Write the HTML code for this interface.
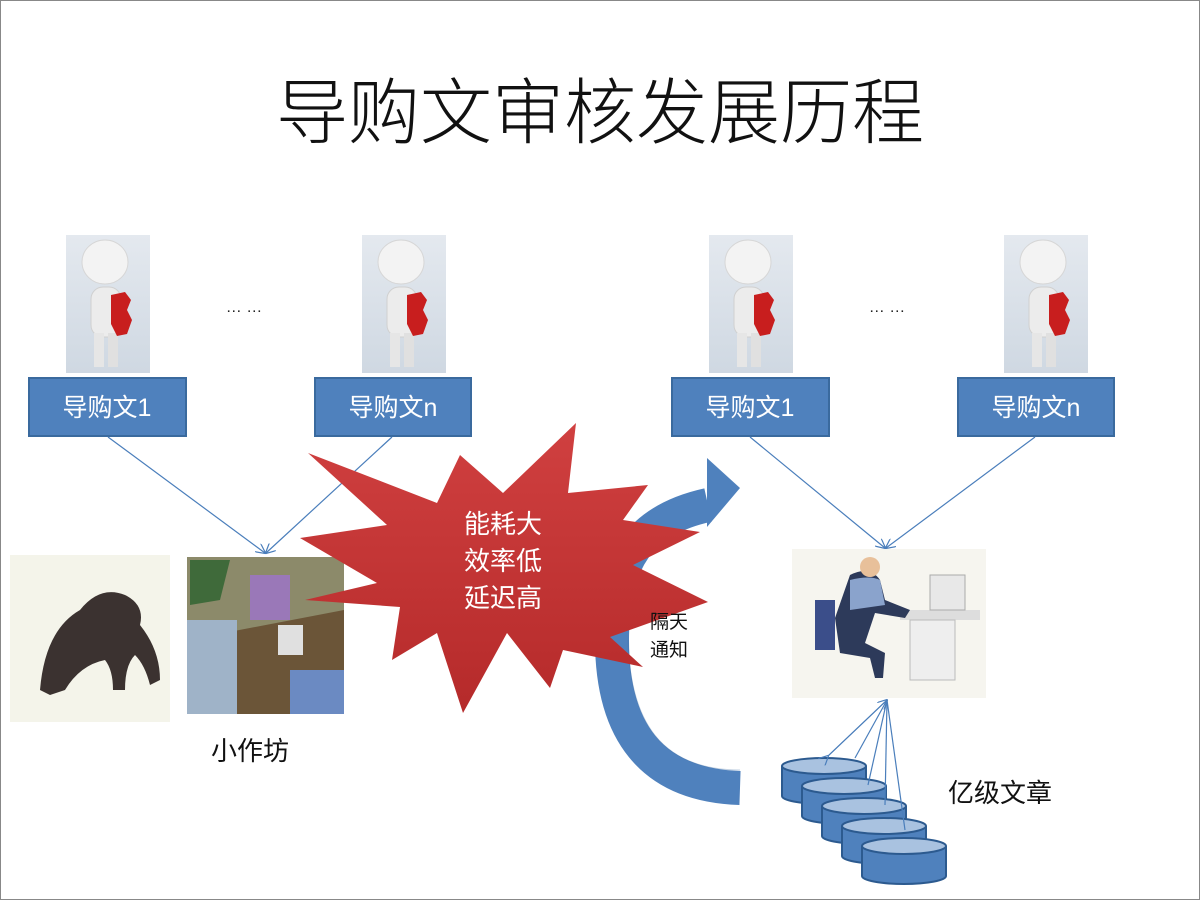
<!DOCTYPE html>
<html><head><meta charset="utf-8"><style>
html,body{margin:0;padding:0;background:#fff}
svg{display:block}
text{font-family:"Liberation Sans","Noto Sans CJK SC",sans-serif}
</style></head><body>
<svg width="1200" height="900" viewBox="0 0 1200 900" xmlns="http://www.w3.org/2000/svg">
<defs>
<linearGradient id="pbg" x1="0" y1="0" x2="0" y2="1"><stop offset="0" stop-color="#e4e9ef"/><stop offset="1" stop-color="#cfd8e2"/></linearGradient>
<linearGradient id="red" x1="0" y1="0" x2="0" y2="1"><stop offset="0" stop-color="#d04040"/><stop offset="1" stop-color="#b52a2a"/></linearGradient>
<g id="person">
<rect x="0" y="0" width="84" height="138" fill="url(#pbg)"/>
<ellipse cx="39" cy="27" rx="23" ry="22" fill="#f3f3f3" stroke="#d6d6d6"/>
<rect x="25" y="52" width="30" height="50" rx="12" fill="#ececec" stroke="#d0d0d0"/>
<rect x="28" y="98" width="10" height="34" fill="#e6e6e6"/>
<rect x="42" y="98" width="10" height="34" fill="#e0e0e0"/>
<path d="M45 60 l14 -3 l6 8 l-4 10 l5 10 l-5 14 l-10 2 l-6 -12 z" fill="#c81e1e"/>
</g>
<g id="cyl">
<path d="M0 8 v30 a42 8 0 0 0 84 0 v-30" fill="#4f81bd" stroke="#2c5a8f" stroke-width="2"/>
<ellipse cx="42" cy="8" rx="42" ry="8" fill="#a9c2e0" stroke="#2c5a8f" stroke-width="2"/>
</g>
<marker id="ah" markerWidth="10" markerHeight="10" refX="9" refY="5" orient="auto" markerUnits="userSpaceOnUse"><path d="M0 0 L10 5 L0 10" fill="none" stroke="#4a7ebb" stroke-width="1.2"/></marker>
</defs>
<rect x="0.5" y="0.5" width="1199" height="899" fill="#fff" stroke="#888"/>
<text x="600" y="138" font-size="72" text-anchor="middle" fill="#111" font-family="'Noto Sans CJK SC',sans-serif" font-weight="300">导购文审核发展历程</text>

<use href="#person" x="66" y="235"/>
<use href="#person" x="362" y="235"/>
<use href="#person" x="709" y="235"/>
<use href="#person" x="1004" y="235"/>
<text x="244" y="312" font-size="16" text-anchor="middle" fill="#222">… …</text>
<text x="887" y="312" font-size="16" text-anchor="middle" fill="#222">… …</text>

<g fill="#4f81bd" stroke="#3a6a9e" stroke-width="2">
<rect x="29" y="378" width="157" height="58"/>
<rect x="315" y="378" width="156" height="58"/>
<rect x="672" y="378" width="157" height="58"/>
<rect x="958" y="378" width="156" height="58"/>
</g>
<g fill="#fff" font-size="25" text-anchor="middle">
<text x="107" y="416">导购文1</text>
<text x="393" y="416">导购文n</text>
<text x="750" y="416">导购文1</text>
<text x="1036" y="416">导购文n</text>
</g>

<g stroke="#4a7ebb" stroke-width="1.2" fill="none">
<line x1="108" y1="437" x2="265" y2="553" marker-end="url(#ah)"/>
<line x1="392" y1="437" x2="266" y2="553" marker-end="url(#ah)"/>
<line x1="750" y1="437" x2="885" y2="548" marker-end="url(#ah)"/>
<line x1="1035" y1="437" x2="886" y2="548" marker-end="url(#ah)"/>
</g>

<!-- monkey -->
<rect x="10" y="555" width="160" height="167" fill="#f4f4ea"/>
<path d="M40 690 q5 -60 40 -80 q20 -25 45 -15 q20 10 15 30 q20 25 20 55 l-10 5 q-5 -20 -15 -30 q-10 10 -10 35 l-12 0 q0 -20 -8 -30 q-25 5 -40 30 l-15 5 z" fill="#3b3230"/>
<!-- office -->
<rect x="187" y="557" width="157" height="157" fill="#8c8a6a"/>
<path d="M187 640 l157 -30 v104 h-157z" fill="#6b5538"/>
<rect x="187" y="620" width="50" height="94" fill="#9fb3c8"/>
<rect x="250" y="575" width="40" height="45" fill="#9a78b8"/>
<rect x="278" y="625" width="25" height="30" fill="#e0e0e0"/>
<rect x="290" y="670" width="54" height="44" fill="#6b8ac2"/>
<path d="M190 560 l40 0 l-10 40 l-30 5z" fill="#3f6a3a"/>
<text x="250" y="760" font-size="26" text-anchor="middle" fill="#111">小作坊</text>

<!-- curved arrow -->
<path d="M740 788 C650 785 612 730 612 640 C612 560 640 520 708 505" fill="none" stroke="#4f81bd" stroke-width="34"/>
<path d="M740 770 C660 770 630 720 628 640" fill="none" stroke="#3a6a9e" stroke-width="1" opacity="0.3"/>
<polygon points="707,458 740,488 707,527" fill="#4f81bd"/>

<!-- starburst -->
<polygon fill="url(#red)" points="576,423 568,493 648,485 623,520 700,532 633,565 708,602 610,637 643,667 563,650 550,688 507,633 463,713 437,633 392,660 400,607 305,600 377,583 300,538 387,525 308,453 437,503 460,455 503,493"/>
<g fill="#fff" font-size="26" text-anchor="middle">
<text x="503" y="533">能耗大</text>
<text x="503" y="570">效率低</text>
<text x="503" y="607">延迟高</text>
</g>
<g fill="#111" font-size="19">
<text x="650" y="628">隔天</text>
<text x="650" y="656">通知</text>
</g>

<!-- computer person -->
<rect x="792" y="549" width="194" height="149" fill="#f6f5ef"/>
<rect x="900" y="610" width="80" height="10" fill="#ddd"/>
<rect x="910" y="620" width="45" height="60" fill="#eee" stroke="#bbb"/>
<rect x="930" y="575" width="35" height="35" fill="#e8e8e8" stroke="#aaa"/>
<path d="M850 575 q20 -10 30 5 l5 20 l25 10 l-5 8 l-30 -5 l-10 30 l20 10 l-2 25 l-8 0 l-5 -20 l-30 -5 l-5 -35 z" fill="#2d3a5a"/>
<path d="M850 580 q20 -5 30 0 l5 25 l-35 5 z" fill="#8aa3cc"/>
<circle cx="870" cy="567" r="10" fill="#e8c09a"/>
<rect x="815" y="600" width="20" height="50" fill="#3b4e8a"/>

<!-- cylinders -->
<use href="#cyl" x="782" y="758"/>
<use href="#cyl" x="802" y="778"/>
<use href="#cyl" x="822" y="798"/>
<use href="#cyl" x="842" y="818"/>
<use href="#cyl" x="862" y="838"/>
<g stroke="#4a7ebb" stroke-width="1.2" fill="none">
<line x1="828" y1="756" x2="887" y2="700" marker-end="url(#ah)"/>
<line x1="828" y1="756" x2="887" y2="700" marker-start="url(#ah)"/>
<line x1="855" y1="758" x2="887" y2="700"/>
<line x1="868" y1="785" x2="887" y2="700"/>
<line x1="885" y1="805" x2="887" y2="700"/>
<line x1="905" y1="830" x2="887" y2="700"/>
</g>
<text x="948" y="802" font-size="26" fill="#111">亿级文章</text>
</svg>
</body></html>
